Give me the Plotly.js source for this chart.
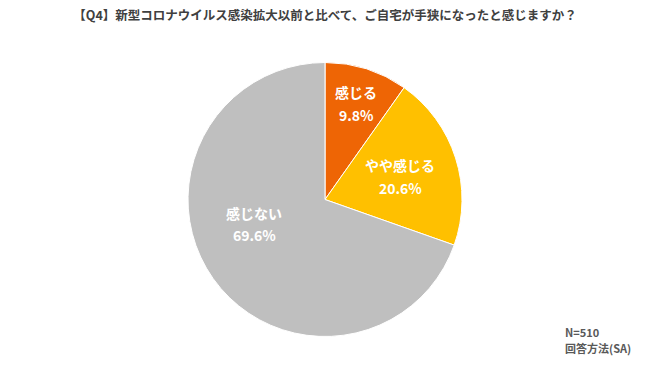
<!DOCTYPE html>
<html><head><meta charset="utf-8">
<script src="https://cdn.plot.ly/plotly-3.0.1.min.js"></script>
<style>html,body{margin:0;padding:0;background:#fff}#c{width:650px;height:365px}</style>
</head><body><div id="c"></div>
<script>
const categories = ["感じる", "やや感じる", "感じない"];
const values = [9.8, 20.6, 69.6];
const colors = ["#EE6505", "#FFC000", "#BFBFBF"];
const titleText = "【Q4】新型コロナウイルス感染拡大以前と比べて、ご自宅が手狭になったと感じますか？";
const noteLines = ["N=510", "回答方法(SA)"];

// label placement (style): pixel centres of each slice label
const labelPos = [[356, 103], [400, 176], [254, 224]];

const W = 650, H = 365;
const F = '"Noto Sans CJK JP", "Noto Sans", sans-serif';
const anns = [];
categories.forEach((c, i) => {
  const lines = [c, values[i].toFixed(1) + '%'];
  lines.forEach((t, k) => anns.push({
    text: '<b>' + t + '</b>',
    xref: 'paper', yref: 'paper',
    x: labelPos[i][0] / W, y: 1 - (labelPos[i][1] + (k === 0 ? -11.5 : 11.5)) / H,
    xanchor: 'center', yanchor: 'middle', align: 'center', showarrow: false,
    font: {family: F, size: 14, color: '#FFFFFF'}
  }));
});
noteLines.forEach((t, k) => anns.push({
  text: '<b>' + t + '</b>', xref: 'paper', yref: 'paper',
  x: 563 / W, y: 1 - (332 + 16 * k) / H, xanchor: 'left', yanchor: 'middle', align: 'left',
  showarrow: false, font: {family: F, size: 11, color: '#595959'}
}));

Plotly.newPlot('c', [{
  type: 'pie',
  labels: categories,
  values: values,
  sort: false,
  direction: 'clockwise',
  rotation: 0,
  marker: {colors: colors, line: {color: '#FFFFFF', width: 1}},
  textinfo: 'none',
  hoverinfo: 'none',
  domain: {x: [188 / W, 462 / W], y: [28 / H, 303 / H]},
  showlegend: false
}], {
  width: W, height: H,
  margin: {l: 0, r: 0, t: 0, b: 0},
  paper_bgcolor: '#FFFFFF',
  title: {text: '<b>' + titleText + '</b>', font: {family: F, size: 12.5, color: '#404040'}, x: 0.5, xanchor: 'center', y: 1 - 16 / H, yanchor: 'middle'},
  annotations: anns
}, {staticPlot: true});
</script></body></html>
